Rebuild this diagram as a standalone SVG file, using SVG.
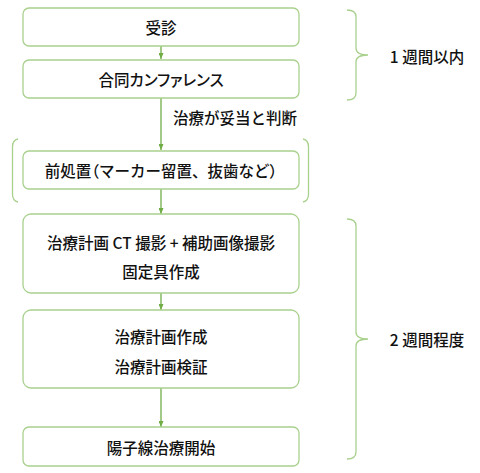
<svg xmlns="http://www.w3.org/2000/svg" width="480" height="473" viewBox="0 0 480 473">
<style>
.box{fill:#fff;stroke:#A9D18E;stroke-width:1.3}
.br{fill:none;stroke:#A9D18E;stroke-width:1.3}
.ln{fill:none;stroke:#70AD47;stroke-width:1.3}
text{font-family:"Noto Sans CJK JP","Noto Sans",sans-serif;font-size:15.5px;font-weight:500;fill:#111;text-anchor:middle;dominant-baseline:central}
.p{font-feature-settings:"palt"}
</style>
<defs>
<marker id="ah" markerWidth="6" markerHeight="5" refX="6" refY="2.5" orient="auto" markerUnits="userSpaceOnUse">
<path d="M0,0 L6,2.5 L0,5 Z" fill="#70AD47"/>
</marker>
</defs>
<rect width="480" height="473" fill="#fff"/>
<g id="connectors">
<line class="ln" x1="161" y1="46" x2="161" y2="59" marker-end="url(#ah)"/>
<line class="ln" x1="161" y1="98" x2="161" y2="150" marker-end="url(#ah)"/>
<line class="ln" x1="161" y1="189" x2="161" y2="214" marker-end="url(#ah)"/>
<line class="ln" x1="161" y1="293" x2="161" y2="310" marker-end="url(#ah)"/>
<line class="ln" x1="161" y1="388" x2="161" y2="427" marker-end="url(#ah)"/>
<text x="235" y="117">治療が妥当と判断</text>
</g>
<g id="n1"><rect class="box" x="23" y="8" width="276" height="38" rx="6"/><text x="161" y="27">受診</text></g>
<g id="n2"><rect class="box" x="23" y="60" width="276" height="38" rx="6"/><text class="p" x="161" y="79">合同カンファレンス</text></g>
<g id="n3"><rect class="box" x="23" y="151" width="276" height="38" rx="6"/><text x="161" y="170">前処置<tspan class="p">（</tspan>マーカー留置、抜歯など<tspan class="p">）</tspan></text></g>
<g id="n4"><rect class="box" x="23" y="214" width="276" height="79" rx="8"/><text x="161" y="242">治療計画 CT 撮影 + 補助画像撮影</text><text x="161" y="271">固定具作成</text></g>
<g id="n5"><rect class="box" x="23" y="310" width="276" height="78" rx="8"/><text x="161" y="336">治療計画作成</text><text x="161" y="366">治療計画検証</text></g>
<g id="n6"><rect class="box" x="23" y="427" width="276" height="39" rx="6"/><text x="161" y="447">陽子線治療開始</text></g>
<g id="brackets">
<path class="br" d="M18,139 Q12.5,140 12.5,147 L12.5,194 Q12.5,201 18,202"/>
<path class="br" d="M303,139 Q308.5,140 308.5,147 L308.5,194 Q308.5,201 303,202"/>
<path class="br" d="M347,10 Q356,10 356,17 L356,48 Q356,55 368,55 Q356,55 356,62 L356,93 Q356,100 347,100"/>
<path class="br" d="M347,219 Q356,219 356,226 L356,332 Q356,339 368,339 Q356,339 356,346 L356,452 Q356,459 347,459"/>
</g>
<g id="labels">
<text x="427" y="56">1 週間以内</text>
<text x="427" y="339">2 週間程度</text>
</g>
</svg>
